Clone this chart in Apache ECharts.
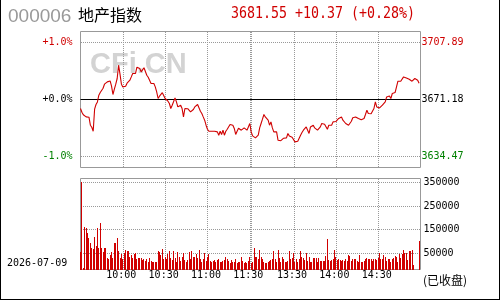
<!DOCTYPE html>
<html><head><meta charset="utf-8">
<script src="https://cdn.jsdelivr.net/npm/echarts@6/dist/echarts.min.js"></script>
<style>html,body{margin:0;padding:0;background:#fff}#c{width:500px;height:300px}</style>
</head><body><div id="c"></div>
<script>
const stockCode = '000006';
const stockName = '地产指数';
const tradeDate = '2026-07-09';
const statusText = '(已收盘)';
const watermarkText = 'CFi.CN';
const prevClose = 3671.18;
const lastPrice = 3681.55;
const priceChange = 10.37;
const pctChange = 0.28;
const priceTicks = [3634.47, 3671.18, 3707.89];
const volumeTicks = [50000, 150000, 250000, 350000];
const gridTimes = ['10:00','10:30','11:00','11:30','13:00','13:30','14:00','14:30'];
const labelTimes = ['10:00','10:30','11:00','11:30','13:30','14:00','14:30'];

const prices = [
3665.40,3663.03,3661.42,3661.10,3660.01,3658.99,3659.82,3654.69,3653.40,3650.83,
3664.95,3667.97,3669.64,3673.94,3675.67,3675.03,3678.43,3681.00,3681.64,3682.48,
3681.45,3683.12,3679.72,3674.39,3677.79,3681.00,3684.66,3693.19,3687.42,3681.00,
3679.27,3679.72,3679.72,3681.64,3681.00,3683.57,3685.68,3687.87,3687.42,3687.87,
3691.91,3691.59,3691.08,3688.89,3689.98,3691.59,3691.27,3686.78,3685.49,3684.66,
3681.45,3682.28,3681.45,3679.27,3676.06,3671.82,3673.30,3674.58,3675.54,3676.06,
3671.82,3670.73,3670.09,3668.61,3665.40,3667.52,3668.61,3672.21,3669.64,3666.43,
3665.40,3667.52,3665.40,3660.01,3665.40,3666.43,3665.28,3664.31,3663.22,3663.22,
3664.76,3666.43,3667.20,3667.97,3667.52,3663.67,3662.19,3660.01,3657.89,3654.69,
3652.12,3650.83,3650.83,3650.83,3650.83,3650.83,3650.51,3650.39,3648.27,3650.83,
3648.72,3651.48,3648.27,3650.83,3652.12,3651.48,3655.13,3655.13,3654.69,3652.57,
3648.72,3650.83,3652.76,3653.59,3651.48,3652.44,3652.95,3654.04,3651.48,3653.59,
3655.78,3650.39,3647.82,3647.31,3646.53,3646.15,3648.27,3652.95,3655.78,3658.54,
3661.55,3660.01,3660.65,3657.89,3654.69,3656.80,3652.95,3650.39,3650.39,3650.39,
3645.06,3644.42,3644.74,3645.06,3646.34,3646.53,3646.53,3649.36,3647.82,3647.18,
3646.98,3646.15,3643.97,3644.22,3644.42,3644.42,3648.27,3650.00,3651.48,3652.76,
3653.59,3652.95,3649.36,3653.59,3654.04,3654.69,3652.95,3654.04,3651.48,3652.76,
3653.59,3655.78,3655.78,3655.33,3654.69,3652.12,3654.69,3655.78,3654.69,3656.80,
3657.25,3657.06,3656.80,3658.99,3659.50,3660.01,3657.89,3657.25,3655.78,3655.01,
3654.69,3655.33,3657.25,3659.50,3660.01,3660.01,3659.50,3658.99,3658.73,3658.22,
3657.25,3658.99,3661.55,3664.31,3662.19,3663.22,3662.07,3661.10,3665.40,3669.64,
3666.43,3665.79,3665.79,3665.79,3667.52,3668.61,3669.64,3672.85,3673.30,3673.49,
3671.82,3675.03,3675.35,3675.67,3679.27,3682.92,3682.92,3682.92,3682.92,3685.68,
3685.36,3685.04,3684.66,3684.21,3683.57,3682.92,3683.37,3684.66,3684.21,3683.57,3681.55
];

const volumes = [
73700,374400,5000,182900,175800,154600,136100,112000,90800,86500,
140400,102100,175800,93600,197100,93600,73700,93600,90800,48200,
45400,62400,73700,51000,112000,112000,136100,76600,51000,65200,
45400,69500,83700,76600,79400,55300,62400,48200,65200,72300,
45400,48200,51000,51000,41100,45400,36900,45400,34000,48200,
36900,34000,31200,34000,34000,76600,73700,62400,87900,45400,
55300,45400,65200,80800,48200,41100,79400,48200,34000,73700,
55300,36900,55300,72300,41100,34000,41100,73700,45400,76600,
55300,55300,65200,51000,83700,45400,34000,45400,72300,36900,
55300,65200,36900,34000,36900,41100,34000,41100,45400,31200,
31200,36900,41100,55300,45400,36900,26900,41100,34000,31200,
45400,26900,31200,31200,55300,36900,26900,34000,26900,36900,
55300,26900,34000,93600,55300,55300,45400,83700,55300,45400,
34000,26900,26900,31200,36900,41100,45400,79400,45400,31200,
83700,51000,34000,55300,45400,31200,31200,36900,76600,45400,
51000,69500,34000,45400,31200,45400,76600,55300,51000,41100,
69500,36900,55300,34000,31200,51000,51000,51000,31200,51000,
36900,36900,36900,36900,58100,130500,41100,36900,41100,45400,
83700,55300,41100,45400,41100,36900,41100,36900,45400,36900,
62400,58100,36900,45400,45400,45400,36900,31200,62400,31200,
31200,36900,45400,48200,45400,45400,45400,36900,45400,45400,
41100,51000,69500,45400,45400,62400,55300,36900,45400,45400,
34000,45400,51000,58100,55300,34000,65200,51000,65200,83700,
69500,69500,41100,76600,79400,83700,19900,0,0,0,121900
];

// minute categories of the two trading sessions
const times = [];
function addSession(h, m, count) {
  for (let k = 0; k < count; k++) {
    const t = h * 60 + m + k;
    times.push(String(Math.floor(t / 60)).padStart(2, '0') + ':' + String(t % 60).padStart(2, '0'));
  }
}
addSession(9, 30, 121);
addSession(13, 0, 121);

const red = '#d00000', green = '#008000', gridGrey = '#999';
const priceHalfRange = 43.64;
const monoFont = 'DejaVu Sans Mono';
const priceGrid = {left: 80.5, top: 31.5, width: 340, height: 136};
const volumeGrid = {left: 80.5, top: 178.5, width: 340, height: 91};
const volumeLabelGrid = {left: 80.5, top: 182.5, width: 340, height: 70.5};

function tickColor(v) {
  const n = parseFloat(v);
  if (Math.abs(n - prevClose) < 0.005) return '#000';
  return n > prevClose ? red : green;
}

function renderVolumeBar(params, api) {
  const idx = api.value(0), v = api.value(1);
  if (!v) return {type: 'group', children: []};
  const top = api.coord([idx, v]);
  const base = api.coord([idx, 0]);
  const x = Math.round(top[0] - 0.5);
  const y1 = Math.round(top[1]), y2 = Math.round(base[1]);
  return {type: 'rect', shape: {x: x, y: y1, width: 1, height: y2 - y1}, style: {fill: red}};
}

const chart = echarts.init(document.getElementById('c'), null, {renderer: 'canvas'});
const headerQuote = lastPrice.toFixed(2) + ' +' + priceChange.toFixed(2) + ' (+' + pctChange.toFixed(2) + '%)';

chart.setOption({
  animation: false,
  grid: [
    Object.assign({show: true, borderColor: '#999', borderWidth: 1}, priceGrid),
    Object.assign({show: true, borderColor: '#999', borderWidth: 1}, volumeGrid),
    Object.assign({show: false}, volumeLabelGrid)
  ],
  xAxis: [
    {gridIndex: 0, type: 'category', data: times, boundaryGap: false,
     axisLine: {show: false}, axisTick: {show: false}, axisLabel: {show: false}, splitLine: {show: false}},
    {gridIndex: 1, type: 'category', data: times, boundaryGap: false,
     axisLine: {show: false}, axisTick: {show: false}, splitLine: {show: false},
     axisLabel: {show: true, interval: (i, v) => labelTimes.includes(v), margin: 1,
       fontFamily: monoFont, fontSize: 10, color: '#000', padding: [0, 3, 0, 0]}},
    {gridIndex: 2, type: 'category', data: times, boundaryGap: false,
     axisLine: {show: false}, axisTick: {show: false}, axisLabel: {show: false}, splitLine: {show: false}}
  ],
  yAxis: [
    {gridIndex: 0, type: 'value', position: 'left', min: prevClose - priceHalfRange, max: prevClose + priceHalfRange,
     axisLine: {show: false}, axisTick: {show: false}, splitLine: {show: false},
     axisLabel: {customValues: priceTicks, margin: 8, fontFamily: monoFont, fontSize: 10,
       formatter: v => { const p = (v - prevClose) / prevClose * 100; return (p >= -0.0001 ? '+' : '') + (Math.abs(p) < 0.0001 ? 0 : p).toFixed(1) + '%'; },
       color: tickColor}},
    {gridIndex: 0, type: 'value', position: 'right', min: prevClose - priceHalfRange, max: prevClose + priceHalfRange,
     axisLine: {show: false}, axisTick: {show: false}, splitLine: {show: false},
     axisLabel: {customValues: priceTicks, margin: 1, fontFamily: monoFont, fontSize: 10,
       formatter: v => Number(v).toFixed(2), color: tickColor}},
    {gridIndex: 1, type: 'value', min: 0, max: 387200, axisLine: {show: false}, axisTick: {show: false},
     axisLabel: {show: false}, splitLine: {show: false}},
    {gridIndex: 2, type: 'value', position: 'right', min: volumeTicks[0], max: volumeTicks[volumeTicks.length - 1], interval: 100000,
     axisLine: {show: false}, axisTick: {show: false}, splitLine: {show: false},
     axisLabel: {margin: 3, fontFamily: monoFont, fontSize: 10, color: '#000', formatter: v => String(v)}}
  ],
  series: [
    {id: 'price', type: 'line', xAxisIndex: 0, yAxisIndex: 0, data: prices, showSymbol: false, symbol: 'none',
     lineStyle: {color: red, width: 1.1}, z: 3},
    {id: 'volume', type: 'custom', xAxisIndex: 1, yAxisIndex: 2, z: 2,
     data: volumes.map((v, i) => [i, v]), renderItem: renderVolumeBar}
  ]
});

// grid lines placed through the axes' own scales (crisp 1px dots)
const gridLines = [];
function gline(x1, y1, x2, y2, solid) {
  gridLines.push({type: 'line', z: 1, silent: true, shape: {x1: x1, y1: y1, x2: x2, y2: y2},
    style: solid ? {stroke: '#000', lineWidth: 1} : {stroke: gridGrey, lineWidth: 1, lineDash: [1, 1]}});
}
gridTimes.forEach(t => {
  const p = chart.convertToPixel({gridIndex: 0}, [t, prevClose]);
  const x = Math.round(p[0]) + 0.5;
  gline(x, Math.ceil(priceGrid.top), x, Math.floor(priceGrid.top + priceGrid.height), false);
  gline(x, Math.ceil(volumeGrid.top), x, Math.floor(volumeGrid.top + volumeGrid.height), false);
});
priceTicks.forEach(v => {
  const p = chart.convertToPixel({gridIndex: 0}, [times[0], v]);
  const y = Math.floor(p[1]) + 0.5;
  const solid = Math.abs(v - prevClose) < 0.005;
  gline(solid ? priceGrid.left : Math.ceil(priceGrid.left), y, Math.floor(priceGrid.left + priceGrid.width), y, solid);
});
volumeTicks.forEach(v => {
  const p = chart.convertToPixel({gridIndex: 2}, [times[0], v]);
  const y = Math.floor(p[1]) + 0.5;
  gline(Math.ceil(volumeLabelGrid.left), y, Math.floor(volumeLabelGrid.left + volumeLabelGrid.width), y, false);
});

chart.setOption({
  graphic: [
    {type: 'text', z: 0, silent: true, style: {text: watermarkText, x: 90, y: 65, font: 'bold 29px "Liberation Sans"', fill: '#d3d3d3', textVerticalAlign: 'middle'}},
    {type: 'text', style: {text: stockCode, x: 8, y: 16.3, font: '19px "Liberation Sans"', fill: '#999', textVerticalAlign: 'middle'}},
    {type: 'text', style: {text: stockName, x: 78, y: 14.5, font: '16px "Noto Sans CJK SC"', fill: '#000', textVerticalAlign: 'middle'}},
    {type: 'text', x: 231, y: 13.5, scaleY: 1.2, style: {text: headerQuote, x: 0, y: 0, font: '13.3px "DejaVu Sans Mono"', fill: red, textVerticalAlign: 'middle'}},
    {type: 'text', style: {text: tradeDate, x: 7, y: 263.3, font: '10px "DejaVu Sans Mono"', fill: '#000', textVerticalAlign: 'middle'}},
    {type: 'text', style: {text: statusText, x: 423, y: 280, font: '12px "Noto Sans CJK SC"', fill: '#000', textVerticalAlign: 'middle'}},
    {type: 'line', shape: {x1: 0.5, y1: 0, x2: 0.5, y2: 300}, style: {stroke: '#000', lineWidth: 1}},
    {type: 'line', shape: {x1: 499.5, y1: 0, x2: 499.5, y2: 300}, style: {stroke: '#000', lineWidth: 1}},
    {type: 'line', shape: {x1: 0, y1: 299.5, x2: 500, y2: 299.5}, style: {stroke: '#000', lineWidth: 1}}
  ].concat(gridLines)
});
</script></body></html>
